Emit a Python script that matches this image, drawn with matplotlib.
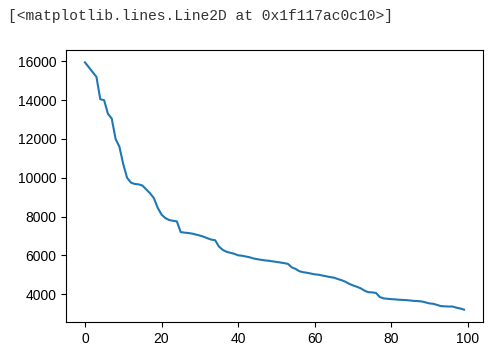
import matplotlib
matplotlib.use("Agg")
import matplotlib.pyplot as plt

x_values = list(range(100))
y_values = [
    15950, 15700, 15450, 15200, 14050, 14000, 13300, 13050, 12000, 11600,
    10700, 10000, 9750, 9680, 9660, 9600, 9400, 9200, 8950, 8450,
    8100, 7920, 7820, 7780, 7750, 7200, 7170, 7150, 7120, 7070,
    7020, 6960, 6880, 6810, 6780, 6450, 6280, 6180, 6130, 6080,
    6000, 5980, 5940, 5900, 5840, 5800, 5770, 5740, 5720, 5690,
    5660, 5630, 5600, 5560, 5380, 5300, 5180, 5130, 5100, 5060,
    5020, 5000, 4960, 4920, 4880, 4850, 4780, 4720, 4640, 4530,
    4450, 4380, 4300, 4180, 4100, 4090, 4060, 3850, 3780, 3760,
    3740, 3730, 3710, 3700, 3690, 3670, 3650, 3640, 3620, 3570,
    3520, 3500, 3440, 3380, 3370, 3360, 3360, 3300, 3260, 3200,
]
header_text = "[<matplotlib.lines.Line2D at 0x1f117ac0c10>]"

plt.rcParams['font.family'] = ['Liberation Sans', 'DejaVu Sans']
fig = plt.figure(figsize=(4.94, 3.56), dpi=100)
ax = fig.add_axes([66/494, 1-322/356, (483-66)/494, (322-50)/356])
ax.plot(x_values, y_values, color='#1f77b4', linewidth=1.5)
ax.set_xticks([0, 20, 40, 60, 80, 100])
ax.set_yticks([4000, 6000, 8000, 10000, 12000, 14000, 16000])
ax.tick_params(labelsize=10)
fig.text(8/494, 1-16/356, header_text, family=['Liberation Mono', 'DejaVu Sans Mono'],
         fontsize=10.5, va='center', ha='left', color='#333333')
fig.savefig("out.png", dpi=100)
